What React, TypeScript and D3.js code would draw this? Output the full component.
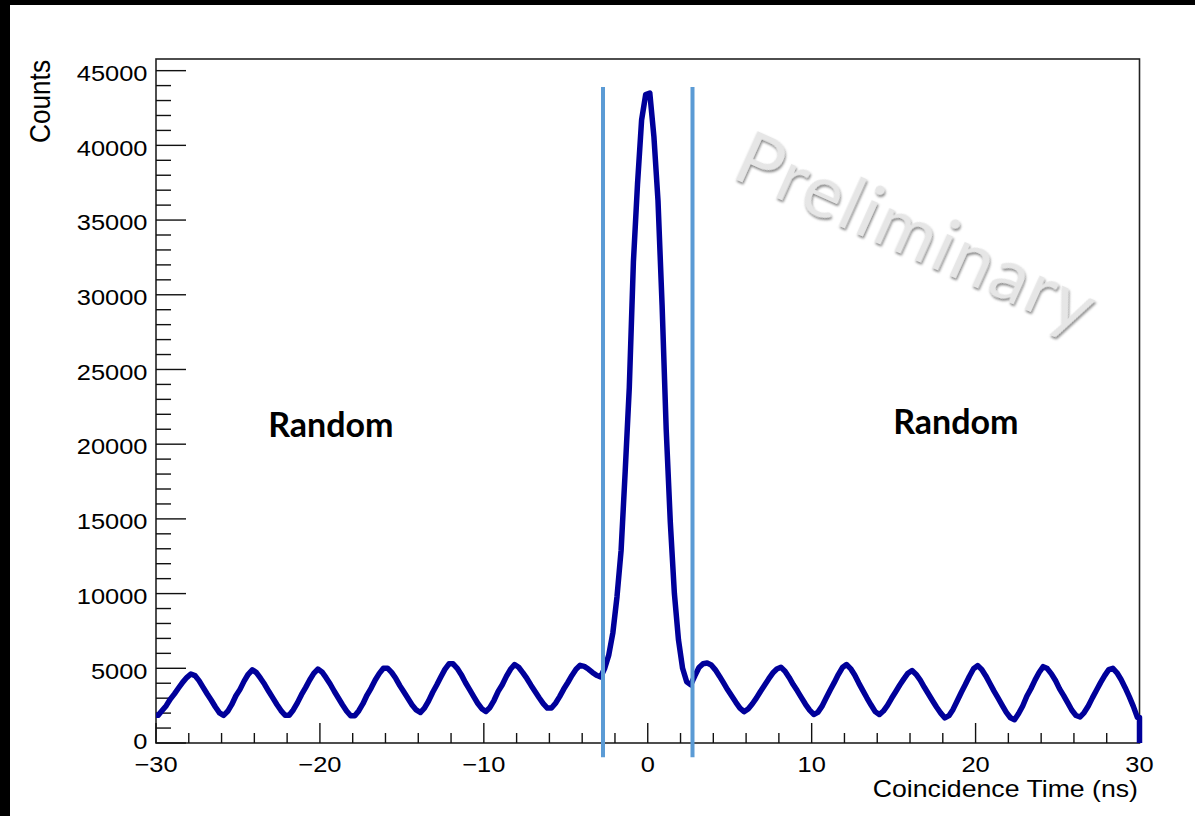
import { useEffect, useRef } from "react";
import * as d3 from "d3";

// histogram range (ns), 0.25 ns bins
const histMin = -30;
const histMax = 30;

// counts per bin, bins from -30 ns up to about -2.75 ns
const leftRandomCounts = [
  1850, 2170, 2500, 2940, 3290, 3680, 4060, 4380, 4620,
  4510, 4175, 3725, 3280, 2860, 2410, 2020, 1850,
  2120, 2580, 3160, 3590, 4140, 4600, 4900,
  4710, 4335, 3930, 3460, 3020, 2580, 2170, 1855,
  1860, 2210, 2685, 3230, 3705, 4215, 4660, 4950,
  4755, 4370, 3950, 3465, 3010, 2560, 2140, 1820,
  1820, 2160, 2630, 3210, 3680, 4220, 4660, 5000,
  5010, 4730, 4330, 3840, 3410, 2980, 2550, 2215,
  2040, 2330, 2805, 3380, 3885, 4420, 4930, 5300,
  5300, 5000, 4575, 4050, 3585, 3120, 2660, 2300,
  2110, 2380, 2860, 3455, 3900, 4460, 4935, 5250,
  5070, 4710, 4320, 3870, 3450, 3030, 2640, 2340,
  2340, 2660, 3105, 3610, 4050, 4520, 4935, 5200,
  5130, 4950, 4720, 4530, 4420,
];

// prompt coincidence peak, -2.75 .. 2.75 ns
const peakCounts = [
  5000, 5900, 7400, 9800, 12900, 18200, 23800, 32200, 37400, 41700, 43400,
  43500, 40600, 36300, 29300, 21000, 14800, 10000, 6900, 5000, 4100, 3900,
];

// 2.75 ns up to 30 ns
const rightRandomCounts = [
  4500, 5050, 5300, 5350,
  5220, 4895, 4475, 4020, 3560, 3140, 2720, 2330, 2100,
  2280, 2610, 3000, 3450, 3870, 4290, 4680, 4950,
  5070, 4810, 4390, 3910, 3490, 3040, 2590, 2200, 1910,
  2050, 2450, 2990, 3530, 4040, 4580, 5050, 5250,
  4980, 4550, 4010, 3510, 3010, 2540, 2100,
  1905, 2140, 2520, 2990, 3430, 3880, 4290, 4670, 4850,
  4590, 4210, 3730, 3280, 2830, 2390, 2000, 1680,
  1830, 2250, 2815, 3380, 3910, 4470, 4970, 5180,
  4925, 4490, 3980, 3470, 3000, 2520, 2050, 1690, 1560,
  1970, 2480, 3130, 3630, 4210, 4720, 5110,
  4980, 4630, 4180, 3620, 3170, 2680, 2190, 1840,
  1740, 2040, 2480, 3020, 3530, 4040, 4510, 4910,
  5000, 4700, 4250, 3700, 3100, 2450, 1700,
];

const xMajorTicks = [-30, -20, -10, 0, 10, 20, 30];
const yMajorTicks = [0, 5000, 10000, 15000, 20000, 25000, 30000, 35000, 40000, 45000];
const cutTimes = [-2.73, 2.73];
const regionLabels = ["Random", "Random"];

const W = 1195;
const H = 816;

const App = () => {
  const ref = useRef<SVGSVGElement | null>(null);

  useEffect(() => {
    const svg = d3.select(ref.current);
    svg.selectAll("*").remove();

    const counts = [...leftRandomCounts, ...peakCounts, ...rightRandomCounts];
    const binW = (histMax - histMin) / counts.length;

    const x = d3.scaleLinear().domain([histMin, histMax]).range([156, 1139.5]);
    const y = d3.scaleLinear().domain([0, 45780]).range([743, 59]);
    const font = "'Liberation Sans', Arial, Helvetica, sans-serif";

    // page background: black edge, white canvas
    svg.append("rect").attr("width", W).attr("height", H).attr("fill", "#000");
    svg.append("rect").attr("x", 10).attr("y", 5).attr("width", W - 10).attr("height", H - 5).attr("fill", "#fff");

    // watermark
    const defs = svg.append("defs");
    const f = defs.append("filter").attr("id", "emboss").attr("x", "-10%").attr("y", "-10%").attr("width", "120%").attr("height", "130%");
    f.append("feDropShadow").attr("dx", 1.6).attr("dy", 1.6).attr("stdDeviation", 0.9).attr("flood-color", "#7a7a7a").attr("flood-opacity", 0.9);
    svg
      .append("text")
      .attr("transform", `translate(${x(5.0)},${y(37900)}) rotate(24.2)`)
      .attr("font-family", "Lato, 'Open Sans', sans-serif")
      .attr("font-size", 74)
      .attr("letter-spacing", 2)
      .attr("fill", "#e6e6e6")
      .attr("filter", "url(#emboss)")
      .text("Preliminary");

    // frame
    svg
      .append("rect")
      .attr("x", x(histMin))
      .attr("y", y.range()[1])
      .attr("width", x(histMax) - x(histMin))
      .attr("height", y(0) - y.range()[1])
      .attr("fill", "none")
      .attr("stroke", "#222")
      .attr("stroke-width", 1.6);

    // y ticks
    const yMinor = d3.range(0, 45001, 1000).filter((v) => v % 5000 !== 0);
    svg
      .selectAll("yMinor")
      .data(yMinor)
      .enter()
      .append("line")
      .attr("x1", x(histMin))
      .attr("x2", x(histMin) + 15)
      .attr("y1", (d) => y(d))
      .attr("y2", (d) => y(d))
      .attr("stroke", "#111")
      .attr("stroke-width", 1.4);
    svg
      .selectAll("yMajor")
      .data(yMajorTicks)
      .enter()
      .append("line")
      .attr("x1", x(histMin))
      .attr("x2", x(histMin) + 30)
      .attr("y1", (d) => y(d))
      .attr("y2", (d) => y(d))
      .attr("stroke", "#111")
      .attr("stroke-width", 1.4);
    svg
      .selectAll("yLabels")
      .data(yMajorTicks)
      .enter()
      .append("text")
      .attr("transform", (d) => `translate(147.5,${y(d) + (d === 0 ? 5.5 : 10.3)}) scale(1.14,1)`)
      .attr("text-anchor", "end")
      .attr("font-family", font)
      .attr("font-size", 22.3)
      .attr("fill", "#000")
      .text((d) => d3.format("d")(d));

    // x ticks
    const xMinor = d3.range(histMin, histMax + 1, 2).filter((v) => v % 10 !== 0);
    svg
      .selectAll("xMinor")
      .data(xMinor)
      .enter()
      .append("line")
      .attr("x1", (d) => x(d))
      .attr("x2", (d) => x(d))
      .attr("y1", y(0))
      .attr("y2", y(0) - 10)
      .attr("stroke", "#111")
      .attr("stroke-width", 1.4);
    svg
      .selectAll("xMajor")
      .data(xMajorTicks)
      .enter()
      .append("line")
      .attr("x1", (d) => x(d))
      .attr("x2", (d) => x(d))
      .attr("y1", y(0))
      .attr("y2", y(0) - 20)
      .attr("stroke", "#111")
      .attr("stroke-width", 1.4);
    svg
      .selectAll("xLabels")
      .data(xMajorTicks)
      .enter()
      .append("text")
      .attr("transform", (d) => `translate(${x(d)},${y(0) + 28.5}) scale(1.14,1)`)
      .attr("text-anchor", "middle")
      .attr("font-family", font)
      .attr("font-size", 22.3)
      .attr("fill", "#000")
      .text((d) => d3.format("d")(d));

    // axis titles
    svg
      .append("text")
      .attr("transform", `translate(1138,796.7) scale(1.14,1)`)
      .attr("text-anchor", "end")
      .attr("font-family", font)
      .attr("font-size", 23.4)
      .attr("fill", "#000")
      .text("Coincidence Time (ns)");
    svg
      .append("text")
      .attr("transform", `translate(50,60) rotate(-90) scale(1,1.155)`)
      .attr("text-anchor", "end")
      .attr("font-family", font)
      .attr("font-size", 26.2)
      .attr("fill", "#000")
      .text("Counts");

    // histogram outline, through bin centres
    const pts: [number, number][] = counts.map((c, i) => [histMin + (i + 0.5) * binW, c]);
    pts.unshift([histMin, counts[0]]);
    pts.push([histMax, counts[counts.length - 1]]);
    const line = d3
      .line<[number, number]>()
      .x((d) => x(d[0]))
      .y((d) => y(d[1]));
    svg
      .append("path")
      .attr("d", line(pts) + `V${y(0)}`)
      .attr("fill", "none")
      .attr("stroke", "#00009a")
      .attr("stroke-width", 5.5)
      .attr("stroke-linejoin", "round");

    // coincidence window cuts
    svg
      .selectAll("cuts")
      .data(cutTimes)
      .enter()
      .append("line")
      .attr("x1", (d) => x(d))
      .attr("x2", (d) => x(d))
      .attr("y1", y(43900))
      .attr("y2", y(-950))
      .attr("stroke", "#5b9bd5")
      .attr("stroke-width", 4);

    // region labels
    const labelPos = [
      [-19.33, 20450],
      [18.8, 20690],
    ];
    svg
      .selectAll("regions")
      .data(regionLabels)
      .enter()
      .append("text")
      .attr("x", (d, i) => x(labelPos[i][0]))
      .attr("y", (d, i) => y(labelPos[i][1]))
      .attr("text-anchor", "middle")
      .attr("font-family", "Lato, 'Open Sans', sans-serif")
      .attr("font-weight", 700)
      .attr("font-size", 34)
      .attr("fill", "#000")
      .text((d) => d);
  }, []);

  return (
    <svg
      ref={ref}
      width={W}
      height={H}
      style={{ position: "absolute", left: 0, top: 0, display: "block" }}
    />
  );
};

export default App;
